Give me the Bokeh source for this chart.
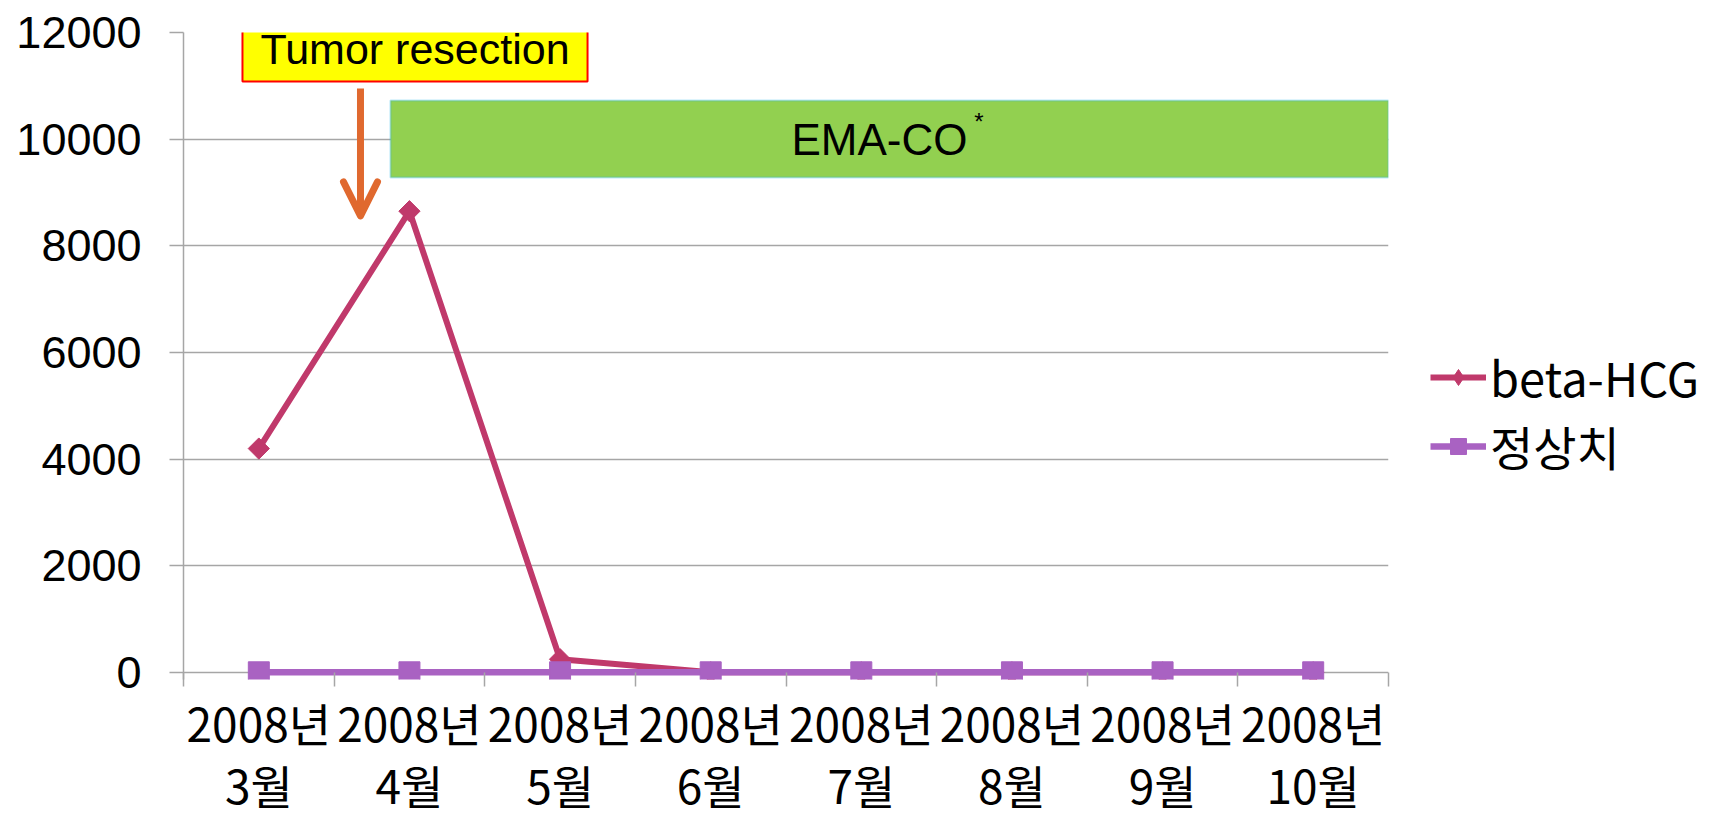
import math
from bokeh.plotting import figure
from bokeh.models import (FixedTicker, Legend, LegendItem, Label, BoxAnnotation,
                          Arrow, OpenHead, Range1d, NumeralTickFormatter)
from bokeh.embed import file_html
from bokeh.resources import INLINE

# ---- data ----
years = ["2008년"] * 8
months = ["3월", "4월", "5월", "6월", "7월", "8월", "9월", "10월"]
beta_hcg = [4200, 8650, 250, 5, 5, 5, 5, 5]
normal_value = [5, 5, 5, 5, 5, 5, 5, 5]
y_ticks = [0, 2000, 4000, 6000, 8000, 10000, 12000]

series1_name = "beta-HCG"
series2_name = "정상치"
event_label = "Tumor resection"
chemo_label = "EMA-CO"

x = [i + 0.5 for i in range(len(months))]
bounds = list(range(len(months) + 1))

GRID = "#A6A6A6"
C1 = "#C0396B"
C2 = "#A962C2"

p = figure(output_backend="svg", toolbar_location=None,
           frame_width=1205, frame_height=647,
           min_border_left=183, min_border_right=315,
           min_border_top=32, min_border_bottom=142,
           x_range=Range1d(0, len(months)), y_range=Range1d(-130, 12000))
p.outline_line_color = None
p.background_fill_color = "white"
p.border_fill_color = "white"

# y axis
p.yaxis.ticker = FixedTicker(ticks=y_ticks)
p.yaxis.formatter = NumeralTickFormatter(format="0")
p.yaxis.axis_line_color = GRID
p.yaxis.axis_line_width = 1.5
p.yaxis.major_tick_line_color = GRID
p.yaxis.major_tick_line_width = 1.5
p.yaxis.major_tick_out = 14
p.yaxis.major_tick_in = 0
p.yaxis.minor_tick_line_color = None
p.yaxis.major_label_standoff = 28
p.yaxis.major_label_text_font = "Liberation Sans"
p.yaxis.major_label_text_font_size = "45px"
p.yaxis.major_label_text_color = "black"

p.ygrid.ticker = FixedTicker(ticks=y_ticks)
p.ygrid.grid_line_color = GRID
p.ygrid.grid_line_width = 1.5
p.xgrid.grid_line_color = None

# x axis
p.xaxis.ticker = FixedTicker(ticks=x, minor_ticks=bounds)
p.xaxis.major_label_overrides = {xi: f"{y}\n{m}" for xi, y, m in zip(x, years, months)}
p.xaxis.axis_line_color = None
p.xaxis.major_tick_line_color = None
p.xaxis.major_tick_out = 0
p.xaxis.major_tick_in = 0
p.xaxis.minor_tick_line_color = GRID
p.xaxis.minor_tick_line_width = 1.5
p.xaxis.minor_tick_out = 7
p.xaxis.minor_tick_in = 7
p.xaxis.major_label_standoff = 2
p.xaxis.major_label_text_font = "Noto Sans CJK KR"
p.xaxis.major_label_text_font_size = "46px"
p.xaxis.major_label_text_line_height = 0.95
p.xaxis.major_label_text_color = "black"
p.xaxis.major_label_text_align = "center"

# annotations
ema = BoxAnnotation(left=1.374, right=8.0, bottom=9281, top=10725,
                    fill_color="#92D050", fill_alpha=1.0,
                    line_color="#1FB4EA", line_width=2, level="underlay")
p.add_layout(ema)
p.add_layout(Label(x=4.62, y=9994, text=chemo_label, text_align="center",
                   text_baseline="middle", text_font="Liberation Sans",
                   text_font_size="44px", text_color="black"))
p.add_layout(Label(x=5.28, y=10330, text="*", text_align="center",
                   text_baseline="middle", text_font="Liberation Sans",
                   text_font_size="24px", text_color="black"))

p.add_layout(Label(x=1.537, y=11700, text=event_label, text_align="center",
                   text_baseline="middle", text_font="Liberation Sans",
                   text_font_size="43px", text_color="black",
                   background_fill_color="#FFFF00", border_line_color="#FF0000",
                   border_line_width=2,
                   padding=dict(left=18, right=18, top=9, bottom=9)))

p.add_layout(Arrow(x_start=1.175, y_start=10950, x_end=1.175, y_end=8562,
                   line_color="#E0692F", line_width=7,
                   end=OpenHead(size=34, line_color="#E0692F", line_width=7,
                                line_cap="round", line_join="round")))

# series
l1 = p.line(x, beta_hcg, line_color=C1, line_width=6)
s1 = p.scatter(x, beta_hcg, marker="square", angle=math.pi / 4, size=15,
               fill_color=C1, line_color=C1)
l2 = p.line(x, normal_value, line_color=C2, line_width=6.5)
s2 = p.scatter(x, normal_value, marker="square", size=21, fill_color=C2, line_color=C2)
# legend proxy so the legend shows a diamond (legend ignores marker angle)
k1 = p.scatter([float("nan")], [float("nan")], marker="diamond", size=22,
               fill_color=C1, line_color=C1)

legend = Legend(items=[LegendItem(label=series1_name, renderers=[l1, k1]),
                       LegendItem(label=series2_name, renderers=[l2, s2])],
                location=(42, 199), orientation="vertical",
                glyph_width=56, glyph_height=40, label_height=40,
                spacing=-10, padding=0, margin=0, label_standoff=4,
                border_line_color=None, background_fill_alpha=0,
                label_text_font="Noto Sans CJK KR", label_text_font_size="47px",
                label_text_color="black")
p.add_layout(legend, "right")

open("out.html", "w").write(file_html(p, INLINE, title="beta-HCG"))
